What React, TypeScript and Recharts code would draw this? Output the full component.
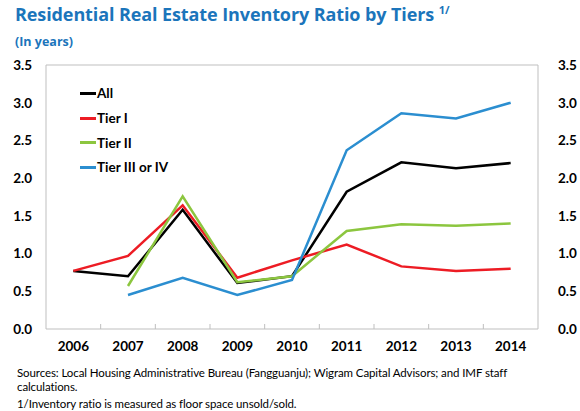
import { LineChart, Line, XAxis, YAxis, ReferenceLine } from "recharts";

const years = ["2006", "2007", "2008", "2009", "2010", "2011", "2012", "2013", "2014"];
const allTiers = [0.77, 0.7, 1.58, 0.61, 0.7, 1.82, 2.21, 2.13, 2.2];
const tier1 = [0.77, 0.97, 1.64, 0.68, 0.91, 1.12, 0.83, 0.77, 0.8];
const tier2 = [null, 0.57, 1.76, 0.62, 0.7, 1.3, 1.39, 1.37, 1.4];
const tier34 = [null, 0.45, 0.68, 0.45, 0.65, 2.37, 2.86, 2.79, 3.0];
const yTicks = [0, 0.5, 1, 1.5, 2, 2.5, 3, 3.5];

const series = [
  { key: "all", name: "All", color: "#000000" },
  { key: "t1", name: "Tier I", color: "#ED1C24" },
  { key: "t2", name: "Tier II", color: "#8CC63F" },
  { key: "t34", name: "Tier III or IV", color: "#2B8ED0" },
];

const data = years.map((year, i) => ({
  year,
  all: allTiers[i],
  t1: tier1[i],
  t2: tier2[i],
  t34: tier34[i],
}));

const FONT = "Lato, 'Open Sans', sans-serif";
const BORDER = "#BFBFBF";
const BAND = (538 - 46) / years.length;

const YearTick = ({ x, y, payload, index }: any) => (
  <g>
    {index > 0 && <line x1={x - BAND / 2} x2={x - BAND / 2} y1={y} y2={y - 5} stroke={BORDER} />}
    <text x={x} y={y + 22} textAnchor="middle" fontSize={13.5} fontWeight={700} fill="#000" fontFamily={FONT}>
      {payload.value}
    </text>
  </g>
);

const fmt = (v: number) => v.toFixed(1);
const tickStyle = { fontSize: 13.5, fontWeight: 700, fill: "#000", fontFamily: FONT };

export default function App() {
  return (
    <div style={{ position: "absolute", left: 0, top: 0, width: 580, height: 411, background: "#fff" }}>
      <div style={{ position: "absolute", left: 15, top: 2, fontFamily: "'Open Sans', sans-serif", fontWeight: 700, fontSize: 18, color: "#1B75BB", whiteSpace: "nowrap", letterSpacing: -0.1 }}>
        Residential Real Estate Inventory Ratio by Tiers <sup style={{ fontSize: 11 }}>1/</sup>
      </div>
      <div style={{ position: "absolute", left: 15, top: 33, fontFamily: "'Open Sans', sans-serif", fontWeight: 700, fontSize: 12.5, color: "#1B75BB" }}>
        (In years)
      </div>
      <LineChart width={580} height={411} data={data} margin={{ top: 65, right: 0, bottom: 52, left: 0 }}>
        <XAxis
          dataKey="year"
          axisLine={{ stroke: BORDER }}
          tickLine={false}
          tickSize={0}
          tickMargin={0}
          height={30}
          tick={<YearTick />}
          interval={0}
          padding={{ left: BAND / 2, right: BAND / 2 }}
        />
        <YAxis
          yAxisId="l"
          domain={[0, 3.5]}
          ticks={yTicks}
          tickFormatter={fmt}
          width={46}
          axisLine={{ stroke: BORDER }}
          tickLine={false}
          tickMargin={8}
          tick={tickStyle}
        />
        <YAxis
          yAxisId="r"
          orientation="right"
          domain={[0, 3.5]}
          ticks={yTicks}
          tickFormatter={fmt}
          width={42}
          axisLine={{ stroke: BORDER }}
          tickLine={false}
          tickMargin={14}
          tick={tickStyle}
        />
        <ReferenceLine yAxisId="l" y={3.5} stroke={BORDER} />
        {series.map((s) => (
          <Line
            key={s.key}
            yAxisId={s.key === "all" ? "r" : "l"}
            dataKey={s.key}
            name={s.name}
            stroke={s.color}
            strokeWidth={2.5}
            dot={false}
            isAnimationActive={false}
          />
        ))}
      </LineChart>
      <div style={{ position: "absolute", left: 80, top: 81, fontFamily: FONT, fontWeight: 700, fontSize: 13.5 }}>
        {series.map((s) => (
          <div key={s.key} style={{ display: "flex", alignItems: "center", height: 24.7 }}>
            <span style={{ width: 16, height: 3, background: s.color, display: "inline-block", marginRight: 1 }} />
            {s.name}
          </div>
        ))}
      </div>
      <div style={{ position: "absolute", left: 17, top: 366, width: 510, fontFamily: FONT, fontSize: 11.5, lineHeight: "14px", color: "#000", letterSpacing: -0.1 }}>
        Sources: Local Housing Administrative Bureau (Fangguanju); Wigram Capital Advisors; and IMF staff calculations.
        <div style={{ marginTop: 3 }}>1/Inventory ratio is measured as floor space unsold/sold.</div>
      </div>
    </div>
  );
}
